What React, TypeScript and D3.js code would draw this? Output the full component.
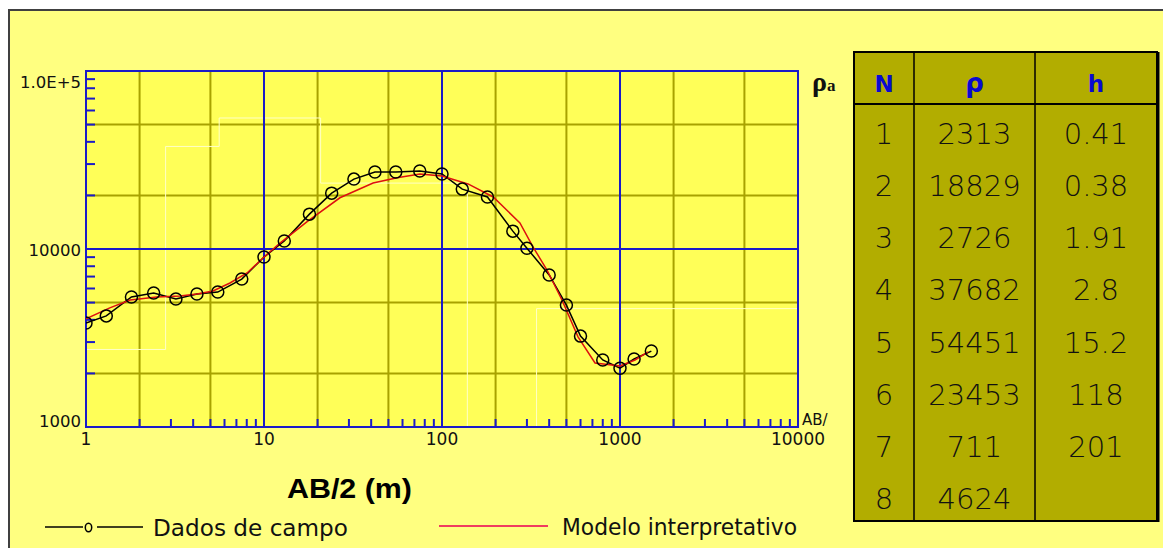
import React from 'react'
import * as d3 from 'd3'

// field data (AB/2 in m, apparent resistivity)
const abField = [1, 1.3, 1.8, 2.4, 3.2, 4.2, 5.5, 7.5, 10, 13, 18, 24, 32, 42, 55, 75, 100, 130, 180, 250, 300, 400, 500, 600, 800, 1000, 1200, 1500]
const rhoField = [3840, 4210, 5380, 5660, 5240, 5590, 5730, 6780, 9010, 11100, 15700, 20600, 24700, 27100, 27100, 27400, 26400, 21700, 19600, 12600, 10100, 7150, 4840, 3240, 2380, 2140, 2410, 2670]

// interpreted model curve
const abModel = [1, 1.36, 1.77, 2.5, 3.37, 4.2, 5.17, 6.44, 8.03, 9.87, 12.3, 17.4, 26.7, 41, 55.9, 75.2, 100, 140, 194, 274, 325, 389, 472, 581, 724, 1000, 1214, 1436]
const rhoModel = [4050, 4670, 5170, 5370, 5440, 5590, 5810, 6440, 7330, 8900, 10800, 14200, 19400, 23500, 25100, 26400, 25700, 23200, 19600, 14000, 10250, 7620, 5170, 3210, 2290, 2200, 2380, 2640]

// layer table
const layerN = ['1', '2', '3', '4', '5', '6', '7', '8']
const layerRho = [2313, 18829, 2726, 37682, 54451, 23453, 711, 4624]
const layerH = [0.41, 0.38, 1.91, 2.8, 15.2, 118, 201, null]

const yTickLabels = ['1000', '10000', '1.0E+5']
const xTickLabels = ['1', '10', '100', '1000', '10000']

const W = 1163
const H = 548
const plot = { left: 86, top: 71, right: 798, bottom: 427 }

const sans = '"DejaVu Sans", sans-serif'

export default function App() {
  const x = d3.scaleLog().domain([1, 10000]).range([plot.left, plot.right])
  const y = d3.scaleLog().domain([1000, 100000]).range([plot.bottom, plot.top])

  const xMinor = x.ticks()
  const yMinor = y.ticks()
  const isDecade = (v: number) => Math.abs(Math.log10(v) - Math.round(Math.log10(v))) < 1e-9
  const first = (v: number) => Math.round(v / Math.pow(10, Math.floor(Math.log10(v) + 1e-9)))

  const line = d3.line<[number, number]>().x(d => x(d[0])).y(d => y(d[1]))
  const fieldPts = abField.map((a, i) => [a, rhoField[i]] as [number, number])
  const modelPts = abModel.map((a, i) => [a, rhoModel[i]] as [number, number])

  // stepped layer model (depth vs resistivity)
  const steps: [number, number][] = []
  let depth = 0.1
  layerRho.forEach((r, i) => {
    const next = layerH[i] == null ? 1e6 : depth + (layerH[i] as number)
    steps.push([i === 0 ? 0.1 : depth, r])
    steps.push([next, r])
    depth = next
  })

  const olive = '#a8a200'
  const blue = '#1a1ac8'

  // table geometry
  const tb = { left: 854, top: 52, right: 1157, bottom: 521, head: 104 }
  const cols = [tb.left, 914, 1035, tb.right]
  const colCenter = (i: number) => (cols[i] + cols[i + 1]) / 2
  const rowBand = d3.scaleBand<number>().domain(d3.range(layerN.length)).range([tb.head, tb.bottom])

  return (
    <svg width={W} height={H} style={{ position: 'absolute', left: 0, top: 0, display: 'block' }}>
      <rect x={0} y={0} width={W} height={H} fill="#ffffff" />
      <rect x={9} y={10} width={W + 20} height={H + 20} fill="#ffff80" stroke="#404040" strokeWidth={2} />

      <defs>
        <clipPath id="plotclip">
          <rect x={plot.left} y={plot.top} width={plot.right - plot.left} height={plot.bottom - plot.top} />
        </clipPath>
      </defs>

      <rect x={plot.left} y={plot.top} width={plot.right - plot.left} height={plot.bottom - plot.top} fill="#ffff58" />

      {/* olive grid at 2 and 5 */}
      {xMinor.filter(v => first(v) === 2 || first(v) === 5).map(v => (
        <line key={'gx' + v} x1={x(v)} x2={x(v)} y1={plot.top} y2={plot.bottom} stroke={olive} strokeWidth={2} />
      ))}
      {yMinor.filter(v => first(v) === 2 || first(v) === 5).map(v => (
        <line key={'gy' + v} y1={y(v)} y2={y(v)} x1={plot.left} x2={plot.right} stroke={olive} strokeWidth={2} />
      ))}

      {/* layer steps */}
      <path d={line(steps) || ''} fill="none" stroke="#ffffc8" strokeWidth={1} clipPath="url(#plotclip)" />

      {/* decade grid */}
      {xMinor.filter(v => isDecade(v) && v > 1 && v < 10000).map(v => (
        <line key={'bx' + v} x1={x(v)} x2={x(v)} y1={plot.top} y2={plot.bottom} stroke={blue} strokeWidth={2} />
      ))}
      {yMinor.filter(v => isDecade(v) && v > 1000 && v < 100000).map(v => (
        <line key={'by' + v} y1={y(v)} y2={y(v)} x1={plot.left} x2={plot.right} stroke={blue} strokeWidth={2} />
      ))}

      {/* minor ticks */}
      {xMinor.filter(v => !isDecade(v)).map(v => (
        <line key={'tx' + v} x1={x(v)} x2={x(v)} y1={plot.bottom} y2={plot.bottom - 8} stroke={blue} strokeWidth={2} />
      ))}
      {yMinor.filter(v => !isDecade(v)).map(v => (
        <line key={'ty' + v} y1={y(v)} y2={y(v)} x1={plot.left} x2={plot.left + 9} stroke={blue} strokeWidth={2} />
      ))}

      <rect x={plot.left} y={plot.top} width={plot.right - plot.left} height={plot.bottom - plot.top} fill="none" stroke={blue} strokeWidth={2} />

      {/* curves */}
      <g clipPath="url(#plotclip)">
        <path d={line(fieldPts) || ''} fill="none" stroke="#000" strokeWidth={1.5} />
        <path d={line(modelPts) || ''} fill="none" stroke="#dd1010" strokeWidth={1.5} />
        {fieldPts.map((p, i) => (
          <circle key={'c' + i} cx={x(p[0])} cy={y(p[1])} r={6} fill="none" stroke="#000" strokeWidth={1.5} />
        ))}
      </g>

      {/* axis labels */}
      {yTickLabels.map((t, i) => {
        const v = 1000 * Math.pow(10, i)
        const off = i === 0 ? 0 : i === 1 ? 7 : 17
        return (
          <text key={'yl' + t} x={81} y={y(v) + off} textAnchor="end" fontFamily={sans} fontSize={16.5} fill="#111">{t}</text>
        )
      })}
      {xTickLabels.map((t, i) => (
        <text key={'xl' + t} x={x(Math.pow(10, i))} y={445} textAnchor="middle" fontFamily={sans} fontSize={17} fill="#111">{t}</text>
      ))}
      <text x={802} y={425} fontFamily={sans} fontSize={15} fill="#111">AB/</text>

      <text x={812} y={91} fontFamily='"Liberation Serif", serif' fontWeight="bold" fontSize={28} fill="#111">
        ρ<tspan fontSize={17} dy={0}>a</tspan>
      </text>

      <text x={287} y={498} fontFamily='"Liberation Sans", Arial, sans-serif' fontWeight="bold" fontSize={28} textLength={125} lengthAdjust="spacingAndGlyphs" fill="#000">AB/2 (m)</text>

      {/* legend */}
      <line x1={45} x2={83} y1={527} y2={527} stroke="#000" strokeWidth={1.5} />
      <line x1={97} x2={143} y1={527} y2={527} stroke="#000" strokeWidth={1.5} />
      <ellipse cx={88.5} cy={527.5} rx={3.2} ry={4.2} fill="none" stroke="#000" strokeWidth={1.5} />
      <text x={153} y={536} fontFamily={sans} fontSize={23} textLength={195} lengthAdjust="spacingAndGlyphs" fill="#111">Dados de campo</text>
      <line x1={439} x2={548} y1={526} y2={526} stroke="#f03c60" strokeWidth={2} />
      <text x={562} y={535} fontFamily={sans} fontSize={23} textLength={235} lengthAdjust="spacingAndGlyphs" fill="#111">Modelo interpretativo</text>

      {/* table */}
      <rect x={tb.left} y={tb.top} width={tb.right - tb.left} height={tb.bottom - tb.top} fill="#b2ad00" stroke="#000" strokeWidth={2} />
      <line x1={tb.right + 1.5} x2={tb.right + 1.5} y1={tb.top} y2={tb.bottom + 1} stroke="#000" strokeWidth={2} />
      <line x1={tb.left} x2={tb.right} y1={tb.head} y2={tb.head} stroke="#000" strokeWidth={2} />
      {cols.slice(1, 3).map(c => (
        <line key={'col' + c} x1={c} x2={c} y1={tb.top} y2={tb.bottom} stroke="#000" strokeWidth={1.5} />
      ))}
      {['N', 'ρ', 'h'].map((t, i) => (
        <text key={'h' + t} x={colCenter(i)} y={92} textAnchor="middle" fontFamily={sans} fontWeight="bold" fontSize={i === 1 ? 26 : 23} fill="#0a0ad0">{t}</text>
      ))}
      {layerN.map((n, i) => {
        const cy = (rowBand(i) as number) + rowBand.bandwidth() / 2 + 14
        const h = layerH[i]
        return (
          <g key={'row' + n} fontFamily={sans} fontWeight={200} fontSize={29} fill="#111" textAnchor="middle">
            <text x={colCenter(0)} y={cy}>{n}</text>
            <text x={colCenter(1)} y={cy}>{layerRho[i]}</text>
            {h != null && <text x={colCenter(2)} y={cy}>{h}</text>}
          </g>
        )
      })}
    </svg>
  )
}
